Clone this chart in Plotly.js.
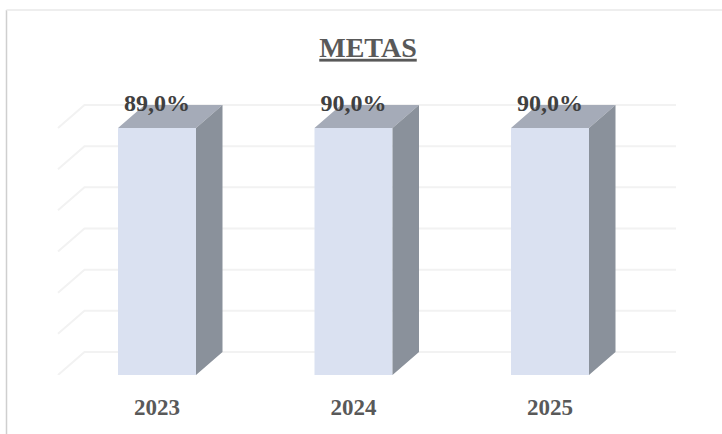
<!DOCTYPE html>
<html><head><meta charset="utf-8">
<script src="https://cdn.plot.ly/plotly-3.0.1.min.js"></script>
<style>html,body{margin:0;padding:0;background:#fff}</style></head>
<body><div id="chart" style="width:722px;height:434px"></div>
<script>
const categories = ["2023", "2024", "2025"];
const labels = ["89,0%", "90,0%", "90,0%"];
const barHeights = [90, 90, 90];
const gridValues = [0, 15, 30, 45, 60, 75, 90];

const W = 722, H = 434, base = 375;
const pxX = 196.5, pxY = 2.744;
const x0 = 157;
const halfBar = 39 / pxX, dx = 26.5 / pxX, dy = 23 / pxY;
const gridL = (58 - x0) / pxX, gridR = (676 - x0) / pxX;
const FRONT = "#dae1f1", TOP = "#a5abb8", SIDE = "#8a919b", SERIF = "Liberation Serif";
const idx = categories.map((_, i) => i);

function faces(build) {
  const xs = [], ys = [];
  idx.forEach(i => {
    build(i, barHeights[i]).forEach(p => { xs.push(p[0]); ys.push(p[1]); });
    xs.push(null); ys.push(null);
  });
  return {x: xs, y: ys};
}
const topFace = faces((i, v) => [[i - halfBar, v], [i + halfBar, v], [i + halfBar + dx, v + dy], [i - halfBar + dx, v + dy], [i - halfBar, v]]);
const sideFace = faces((i, v) => [[i + halfBar, 0], [i + halfBar + dx, dy], [i + halfBar + dx, v + dy], [i + halfBar, v], [i + halfBar, 0]]);

const traces = [
  {type: "bar", x: idx, y: barHeights, width: 2 * halfBar, marker: {color: FRONT, line: {width: 0}}, hoverinfo: "skip"},
  {type: "scatter", mode: "lines", x: topFace.x, y: topFace.y, fill: "toself", fillcolor: TOP, line: {width: 0, color: TOP}, hoverinfo: "skip"},
  {type: "scatter", mode: "lines", x: sideFace.x, y: sideFace.y, fill: "toself", fillcolor: SIDE, line: {width: 0, color: SIDE}, hoverinfo: "skip"},
  {type: "scatter", mode: "text", x: idx, y: barHeights.map(v => v + 8.5), text: labels, textposition: "middle center",
   textfont: {family: SERIF, size: 24, color: "#404040", weight: 700}, hoverinfo: "skip", cliponaxis: false}
];

const gridShapes = gridValues.map(v => ({
  type: "path", layer: "below", xref: "x", yref: "y",
  path: `M ${gridL} ${v} L ${gridL + dx} ${v + dy} L ${gridR} ${v + dy}`,
  line: {color: "#f2f2f2", width: 2}
}));
const frame = [
  {type: "line", layer: "below", xref: "paper", yref: "paper", x0: 6.5 / W, x1: 6.5 / W, y0: -(H - base) / base, y1: 1 - 10 / base, line: {color: "#cfcfcf", width: 1.5}},
  {type: "line", layer: "below", xref: "paper", yref: "paper", x0: 6.5 / W, x1: 1, y0: 1 - 10 / base, y1: 1 - 10 / base, line: {color: "#eeeeee", width: 2}}
];

const layout = {
  width: W, height: H, showlegend: false, paper_bgcolor: "#fff", plot_bgcolor: "rgba(0,0,0,0)",
  margin: {l: 0, r: 0, t: 0, b: H - base, autoexpand: false},
  title: {text: "<u>METAS</u>", x: 368 / W, xanchor: "center", y: 1 - 47 / H, yanchor: "middle",
          font: {family: SERIF, size: 28, color: "#595959", weight: 700}},
  xaxis: {range: [-x0 / pxX, (W - x0) / pxX], tickvals: idx, ticktext: categories, showgrid: false, zeroline: false, showline: false,
          ticks: "outside", ticklen: 11, tickcolor: "rgba(0,0,0,0)", tickfont: {family: SERIF, size: 23, color: "#595959", weight: 700}},
  yaxis: {range: [0, base / pxY], showgrid: false, zeroline: false, showline: false, showticklabels: false, ticks: ""},
  shapes: gridShapes.concat(frame)
};
Plotly.newPlot("chart", traces, layout, {displayModeBar: false, staticPlot: true});
</script></body></html>
